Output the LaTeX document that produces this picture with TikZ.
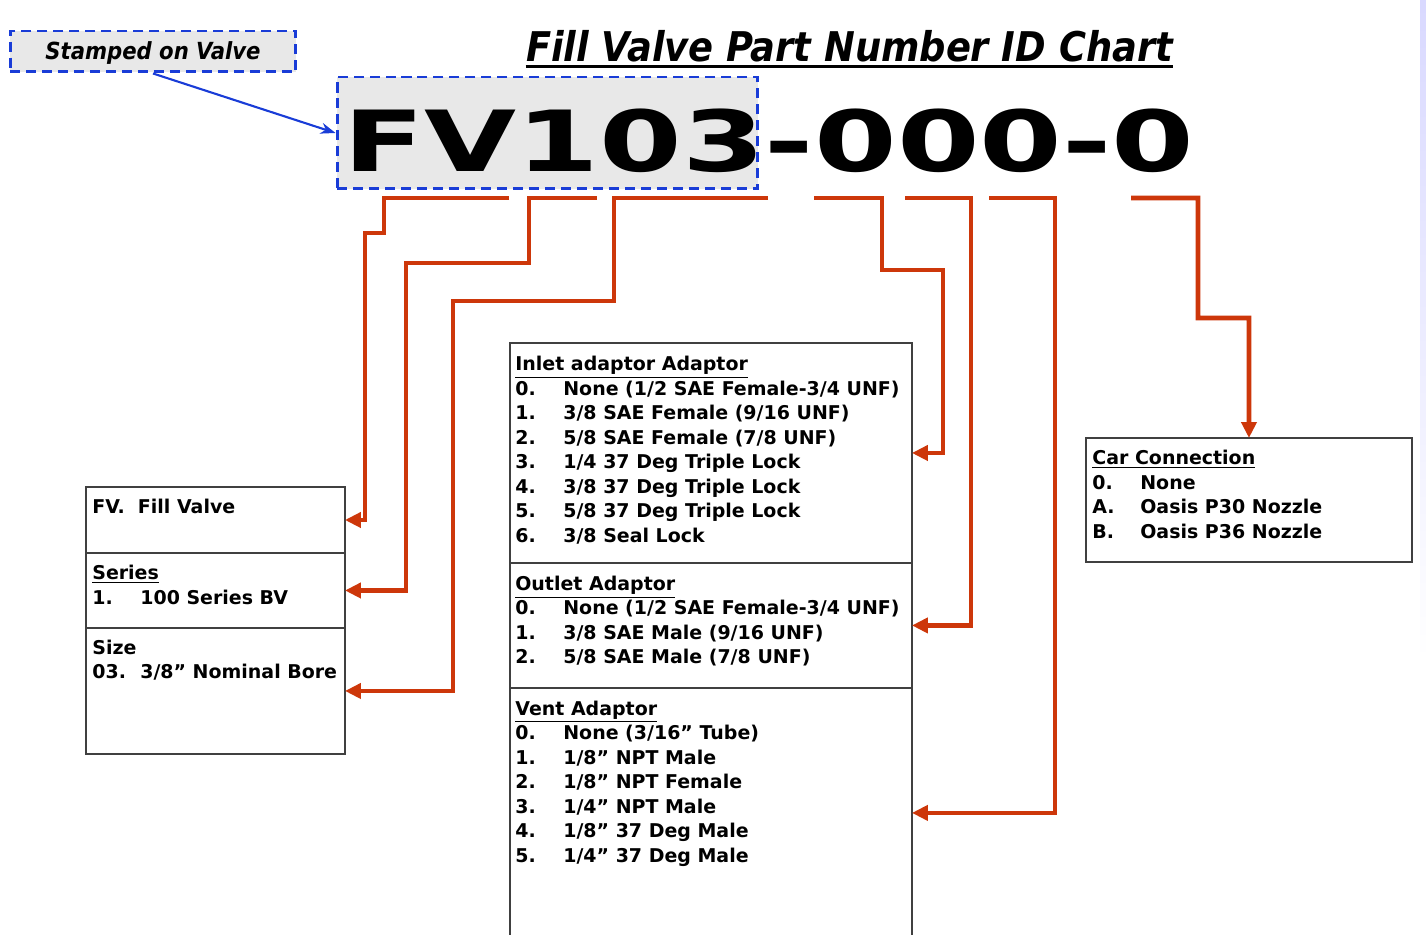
\documentclass[tikz,border=0pt]{standalone}
\usepackage{fontspec}
\setmainfont{DejaVu Sans}
\newfontfamily\condfont{DejaVu Sans Condensed}
\usetikzlibrary{arrows.meta, positioning}
\definecolor{leadred}{RGB}{205,55,10}
\definecolor{stampblue}{RGB}{25,60,215}
\definecolor{stampgrey}{RGB}{232,232,232}
\newcommand{\itm}[2]{\makebox[0.96cm][l]{#1}#2}
\tikzset{
  sect/.style={rectangle, draw=black!75, line width=1.1pt, outer sep=0pt, inner sep=0pt},
  sectxt/.style={anchor=north west, inner sep=0pt, align=left, font=\bfseries\fontsize{10.8}{13.95}\selectfont},
  stampbox/.style={rectangle, draw=stampblue, fill=stampgrey, line width=1.7pt, dash pattern=on 5.7pt off 3.4pt, inner sep=0pt},
  lead/.style={draw=leadred, line width=2.6pt, -{Triangle[length=0.32cm, width=0.3cm]}},
}
\begin{document}
\begin{tikzpicture}[x=0.02cm, y=-0.02cm]
\useasboundingbox (0,0) rectangle (1426,935);
\fill[top color=blue!15, bottom color=white] (1420,0) rectangle (1426,660);
% title and stamp
\node[anchor=base, inner sep=0pt, font=\condfont\bfseries\itshape\fontsize{23.3}{27}\selectfont] (title) at (849.5,62) {Fill Valve Part Number ID Chart};
\draw[line width=1.5pt] ([yshift=-0.09cm]title.base west) -- ([yshift=-0.09cm]title.base east);
\node[stampbox, minimum width=5.72cm, minimum height=0.82cm, text height=9.6pt, text depth=0pt, font=\condfont\bfseries\itshape\fontsize{13.4}{15}\selectfont] (stamp) at (153,51.5) {Stamped on Valve};
\node[stampbox, minimum width=8.42cm, minimum height=2.24cm] (fvbox) at (547.5,133) {};
\node[anchor=base west, inner sep=0pt, font=\bfseries\fontsize{48}{48}\selectfont] (pnum) at (343,172) {\scalebox{1.41}[1]{FV103-000-0}};
\draw[stampblue, line width=1.2pt, -{Stealth[length=0.3cm, width=0.22cm]}] (stamp.south) -- (fvbox.west);

% left column
\node[sect, anchor=north west, minimum width=5.18cm, minimum height=1.32cm] (fv) at (86,487) {};
\node[sect, below=0pt of fv, minimum width=5.18cm, minimum height=1.5cm] (series) {};
\node[sect, below=0pt of series, minimum width=5.18cm, minimum height=2.52cm] (size) {};
\node[sectxt] (fvtxt) at ([xshift=0.12cm, yshift=-0.18cm]fv.north west) {\strut FV.\ \ Fill Valve};
\node[sectxt] (seriestxt) at ([xshift=0.12cm, yshift=-0.18cm]series.north west) {\strut\underline{Series}\\\itm{1.}{100 Series BV}};
\node[sectxt] (sizetxt) at ([xshift=0.12cm, yshift=-0.18cm]size.north west) {\strut Size\\\itm{03.}{3/8” Nominal Bore}};

% middle column
\node[sect, anchor=north west, minimum width=8.04cm, minimum height=4.4cm] (inlet) at (510,343) {};
\node[sect, below=0pt of inlet, minimum width=8.04cm, minimum height=2.5cm] (outlet) {};
\node[sect, below=0pt of outlet, minimum width=8.04cm, minimum height=5.0cm] (vent) {};
\node[sectxt] (inlettxt) at ([xshift=0.1cm, yshift=-0.2cm]inlet.north west) {\strut\underline{Inlet adaptor Adaptor}\\
  \itm{0.}{None (1/2 SAE Female-3/4 UNF)}\\
  \itm{1.}{3/8 SAE Female (9/16 UNF)}\\
  \itm{2.}{5/8 SAE Female (7/8 UNF)}\\
  \itm{3.}{1/4 37 Deg Triple Lock}\\
  \itm{4.}{3/8 37 Deg Triple Lock}\\
  \itm{5.}{5/8 37 Deg Triple Lock}\\
  \itm{6.}{3/8 Seal Lock}};
\node[sectxt] (outlettxt) at ([xshift=0.1cm, yshift=-0.2cm]outlet.north west) {\strut\underline{Outlet Adaptor}\\
  \itm{0.}{None (1/2 SAE Female-3/4 UNF)}\\
  \itm{1.}{3/8 SAE Male (9/16 UNF)}\\
  \itm{2.}{5/8 SAE Male (7/8 UNF)}};
\node[sectxt] (venttxt) at ([xshift=0.1cm, yshift=-0.2cm]vent.north west) {\strut\underline{Vent Adaptor}\\
  \itm{0.}{None (3/16” Tube)}\\
  \itm{1.}{1/8” NPT Male}\\
  \itm{2.}{1/8” NPT Female}\\
  \itm{3.}{1/4” NPT Male}\\
  \itm{4.}{1/8” 37 Deg Male}\\
  \itm{5.}{1/4” 37 Deg Male}};

% right column
\node[sect, anchor=north west, minimum width=6.52cm, minimum height=2.48cm] (car) at (1086,438) {};
\node[sectxt] (cartxt) at ([xshift=0.12cm, yshift=-0.18cm]car.north west) {\strut\underline{Car Connection}\\
  \itm{0.}{None}\\
  \itm{A.}{Oasis P30 Nozzle}\\
  \itm{B.}{Oasis P36 Nozzle}};

% leader lines
\coordinate (fvseg) at (509,198);
\coordinate (seriesseg) at (597,198);
\coordinate (sizeseg) at (768,198);
\coordinate (inletseg) at (814,198);
\coordinate (outletseg) at (905,198);
\coordinate (ventseg) at (989,198);
\coordinate (carseg) at (1131,198);
\draw[lead] (fvseg) -- (384,198) -- (384,233) -- (365,233) |- (fv.east);
\draw[lead] (seriesseg) -- (529,198) -- (529,263) -- (406,263) |- (series.east);
\draw[lead] (sizeseg) -- (614,198) -- (614,301) -- (453,301) |- (size.east);
\draw[lead] (inletseg) -- (882,198) -- (882,270) -- (943,270) |- (inlet.east);
\draw[lead] (outletseg) -- (971,198) |- (outlet.east);
\draw[lead] (ventseg) -- (1055,198) |- (vent.east);
\draw[lead] (carseg) -- (1198,198) -- (1198,318) -- (1249,318) -- (car.north);
\end{tikzpicture}
\end{document}
